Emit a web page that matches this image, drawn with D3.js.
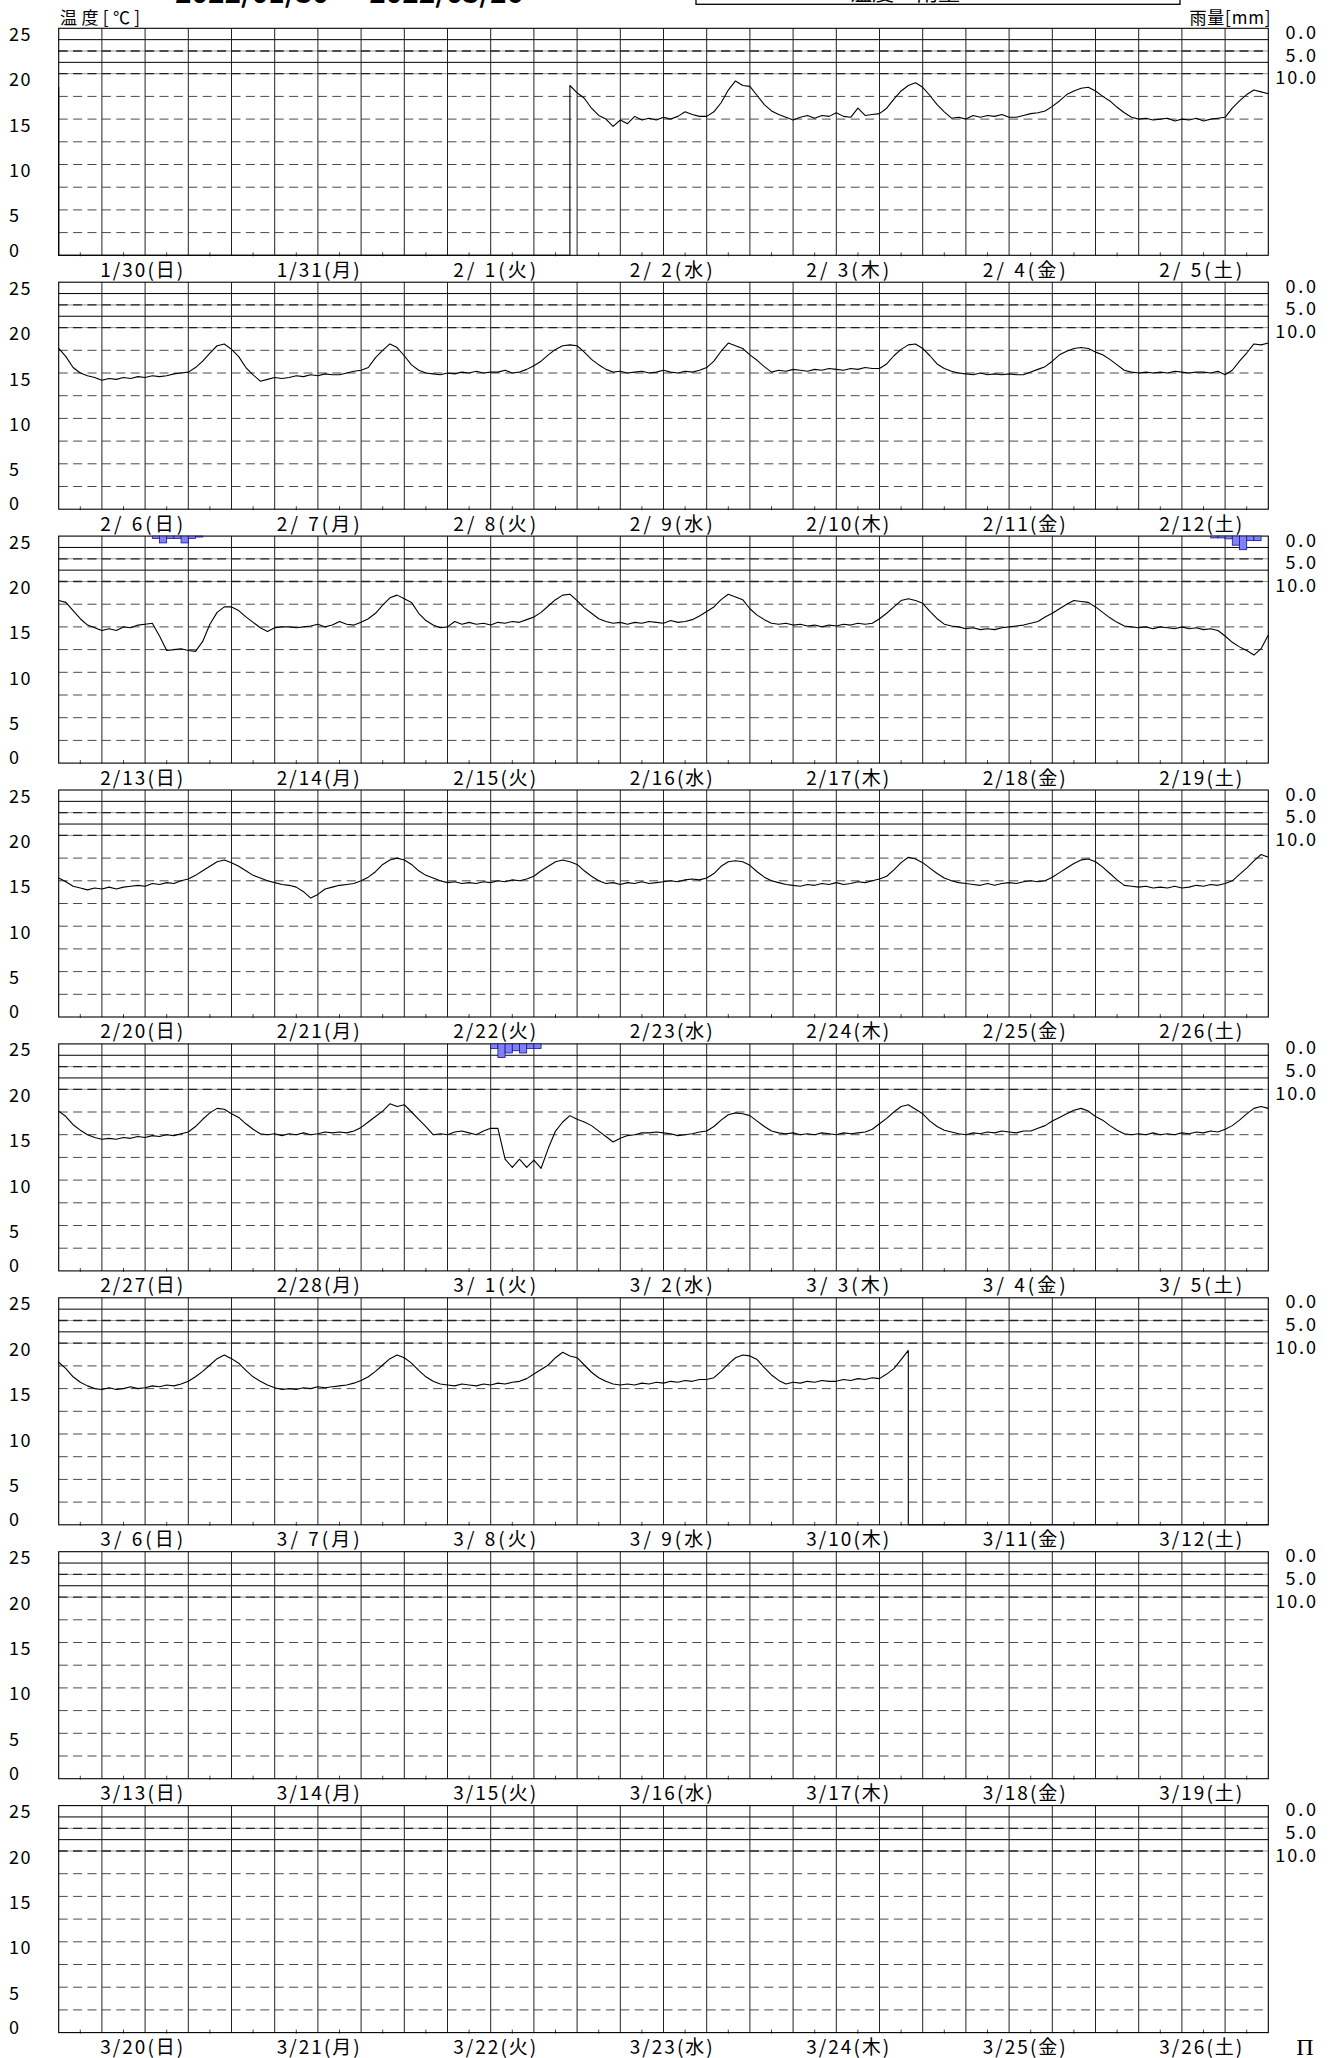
<!DOCTYPE html>
<html><head><meta charset="utf-8">
<script src="https://cdn.jsdelivr.net/npm/d3@7"></script>
<style>
html,body{margin:0;padding:0;background:#fff;}
svg{display:block;}
text{font-family:"Noto Sans CJK JP","Noto Sans",sans-serif;fill:#000;}
</style></head><body>
<svg id="c" width="1336" height="2058"></svg>
<script>
const N = null;
const startDate = new Date(2022, 0, 30);
const weekdays = ["日","月","火","水","木","金","土"];
const titleText = "2022/01/30 ～ 2022/03/26";
const tempTicks = [25, 20, 15, 10, 5, 0];
const rainTicks = [0, 5, 10];
const tempDashGrid = [2.5, 5, 7.5, 10, 12.5, 15, 17.5];
const rainSolidGrid = [2.5, 7.5];
const rainDashGrid = [5, 10];

// hourly temperatures (°C), hour 0..168 of each 7-day panel; null = no data
const temp1 = [18.5,
 N,N,N,N,N,N,N,N,N,N, N,N,N,N,N,N,N,N,N,N, N,N,N,N,N,N,N,N,N,N, N,N,N,N,N,N,N,N,N,N,
 N,N,N,N,N,N,N,N,N,N, N,N,N,N,N,N,N,N,N,N, N,N,N,N,N,N,N,N,N,N,
 18.7,17.9,17.3,16.2,15.4,15.0,14.2,14.9,14.5,15.3,
 14.9,15.1,14.9,15.2,15.0,15.3,15.8,15.5,15.3,15.3,
 15.8,16.8,18.2,19.2,18.7,18.6,17.6,16.6,15.9,15.5,
 15.2,14.9,15.2,15.4,15.1,15.4,15.3,15.7,15.3,15.2,
 16.2,15.4,15.5,15.6,16.2,17.2,18.1,18.7,19.0,18.5,
 17.6,16.6,15.8,15.1,15.2,15.0,15.4,15.2,15.4,15.3,
 15.5,15.2,15.2,15.4,15.6,15.7,15.9,16.4,17.0,17.7,
 18.1,18.4,18.5,18.1,17.5,17.0,16.3,15.7,15.2,15.0,
 15.1,14.9,15.0,15.1,14.8,15.0,14.9,15.1,14.8,15.0,
 15.1,15.2,16.2,17.0,17.7,18.2,18.0,17.8];
const temp2 = [
 17.7,16.8,15.6,15.0,14.7,14.5,14.2,14.4,14.3,14.5,
 14.4,14.6,14.5,14.7,14.6,14.7,14.9,15.0,15.1,15.6,
 16.3,17.2,18.0,18.2,17.6,16.8,15.6,14.8,14.1,14.3,
 14.5,14.4,14.5,14.7,14.6,14.8,14.7,14.9,14.8,14.8,
 15.0,15.2,15.3,15.6,16.7,17.5,18.2,17.8,16.9,15.9,
 15.3,15.0,14.9,14.8,15.0,14.9,15.1,15.0,15.2,15.0,
 15.1,15.1,15.3,15.0,15.1,15.4,15.8,16.3,17.0,17.6,
 18.0,18.1,18.0,17.3,16.5,15.9,15.4,15.1,15.2,15.0,
 15.1,15.2,15.0,15.1,15.3,15.1,15.0,15.2,15.1,15.3,
 15.6,16.3,17.4,18.3,18.0,17.7,17.0,16.4,15.7,15.1,
 15.3,15.2,15.4,15.3,15.2,15.4,15.3,15.5,15.4,15.3,
 15.5,15.4,15.6,15.5,15.5,16.0,16.9,17.6,18.1,18.2,
 17.7,16.9,16.0,15.5,15.2,15.0,14.9,14.8,15.0,14.8,
 14.9,14.8,14.9,14.8,14.8,15.1,15.4,15.7,16.3,17.0,
 17.4,17.7,17.8,17.7,17.3,17.0,16.5,15.9,15.3,15.1,
 15.0,15.1,15.0,15.1,15.0,15.2,15.1,15.0,15.1,15.1,
 15.0,15.2,14.8,15.3,16.3,17.2,18.2,18.1,18.3];
const temp3 = [
 17.9,17.7,16.8,15.9,15.2,14.9,14.6,14.8,14.6,15.0,
 14.9,15.2,15.3,15.4,14.0,12.4,12.5,12.6,12.4,12.3,
 13.4,15.3,16.6,17.2,17.2,16.8,16.1,15.5,14.9,14.5,
 14.9,15.0,15.0,14.9,15.0,15.1,15.3,15.0,15.2,15.6,
 15.3,15.2,15.5,15.9,16.5,17.4,18.2,18.5,18.1,17.7,
 16.5,15.7,15.2,14.9,15.0,15.6,15.3,15.5,15.3,15.4,
 15.2,15.5,15.4,15.6,15.5,15.8,16.1,16.6,17.3,18.0,
 18.5,18.6,17.9,17.1,16.5,15.9,15.6,15.4,15.5,15.3,
 15.5,15.4,15.6,15.5,15.4,15.7,15.5,15.6,15.8,16.2,
 16.7,17.2,18.0,18.6,18.3,18.0,17.0,16.3,15.8,15.4,
 15.3,15.4,15.2,15.3,15.1,15.2,15.0,15.2,15.1,15.3,
 15.2,15.4,15.3,15.4,15.9,16.5,17.2,17.9,18.1,17.9,
 17.6,16.7,15.9,15.3,15.1,15.0,14.8,14.9,14.7,14.8,
 14.7,14.9,15.0,15.1,15.2,15.4,15.6,16.1,16.5,17.0,
 17.5,17.9,17.8,17.7,17.2,16.6,16.0,15.5,15.1,15.0,
 14.9,15.0,14.8,15.0,14.9,14.8,15.0,14.8,14.9,14.7,
 14.8,14.6,14.0,13.3,12.8,12.4,11.9,12.6,14.1];
const temp4 = [
 15.3,14.9,14.4,14.2,14.0,14.2,14.1,14.3,14.1,14.3,
 14.4,14.5,14.4,14.7,14.6,14.8,14.7,15.0,15.2,15.6,
 16.1,16.6,17.1,17.3,17.0,16.6,16.1,15.6,15.3,15.0,
 14.8,14.6,14.5,14.3,13.8,13.1,13.5,14.1,14.3,14.5,
 14.6,14.7,15.0,15.4,16.0,16.8,17.3,17.5,17.3,16.8,
 16.1,15.6,15.3,15.0,14.8,14.9,14.7,14.8,14.7,14.9,
 14.8,15.0,14.9,15.1,15.0,15.2,15.5,16.1,16.6,17.1,
 17.3,17.1,16.8,16.1,15.5,15.0,14.7,14.8,14.6,14.8,
 14.7,14.9,14.7,14.8,14.9,15.0,14.9,15.1,15.2,15.1,
 15.3,15.8,16.6,17.1,17.2,17.1,16.7,16.0,15.4,15.0,
 14.8,14.6,14.5,14.4,14.6,14.5,14.7,14.6,14.8,14.6,
 14.7,14.9,14.8,15.0,15.2,15.5,16.2,17.0,17.6,17.4,
 17.0,16.4,15.8,15.3,15.0,14.8,14.7,14.6,14.5,14.7,
 14.5,14.7,14.8,14.7,14.9,15.0,14.9,15.0,15.4,15.9,
 16.4,16.9,17.3,17.4,17.1,16.5,15.8,15.1,14.5,14.4,
 14.3,14.4,14.2,14.3,14.2,14.4,14.2,14.3,14.5,14.4,
 14.6,14.5,14.7,15.0,15.7,16.4,17.2,17.9,17.6];
const temp5 = [
 17.6,17.0,16.1,15.5,15.0,14.7,14.5,14.6,14.5,14.7,
 14.6,14.8,14.7,14.9,14.8,15.0,14.9,15.1,15.3,15.9,
 16.7,17.4,17.9,17.8,17.3,16.9,16.2,15.6,15.1,15.0,
 15.1,14.9,15.1,15.0,15.2,15.0,15.1,15.3,15.2,15.3,
 15.2,15.4,15.8,16.4,17.0,17.6,18.4,18.1,18.3,17.5,
 16.7,15.9,15.0,15.1,15.0,15.3,15.4,15.2,15.0,15.4,
 15.7,15.7,12.3,11.4,12.3,11.4,12.2,11.3,13.5,15.4,
 16.4,17.1,16.7,16.4,16.0,15.4,14.8,14.2,14.6,14.9,
 15.0,15.2,15.2,15.3,15.2,15.1,14.9,15.0,15.1,15.3,
 15.4,15.9,16.6,17.2,17.4,17.3,17.1,16.5,15.9,15.4,
 15.2,15.1,15.2,15.0,15.1,15.0,15.2,15.1,15.0,15.2,
 15.1,15.2,15.3,15.6,16.2,16.8,17.5,18.1,18.3,17.8,
 17.3,16.5,15.9,15.5,15.3,15.1,15.0,15.2,15.1,15.3,
 15.2,15.4,15.3,15.2,15.4,15.4,15.7,16.0,16.5,16.9,
 17.3,17.7,17.9,17.6,17.0,16.6,16.0,15.5,15.1,15.0,
 15.1,15.0,15.2,15.0,15.1,15.0,15.2,15.1,15.3,15.2,
 15.4,15.3,15.6,16.0,16.6,17.3,17.9,18.1,17.9];
const temp6 = [
 17.9,17.2,16.3,15.7,15.3,15.0,14.9,15.1,14.9,15.0,
 15.2,15.0,15.1,15.3,15.2,15.4,15.3,15.5,15.8,16.3,
 16.9,17.6,18.3,18.7,18.3,17.8,17.0,16.3,15.8,15.4,
 15.1,14.9,15.0,14.9,15.1,15.0,15.2,15.1,15.2,15.3,
 15.4,15.6,15.9,16.3,16.9,17.6,18.3,18.7,18.4,17.8,
 17.0,16.3,15.8,15.5,15.4,15.3,15.5,15.4,15.3,15.5,
 15.4,15.6,15.5,15.7,15.8,16.1,16.6,17.1,17.6,18.4,
 19.0,18.6,18.4,17.6,16.8,16.2,15.8,15.5,15.4,15.5,
 15.4,15.6,15.5,15.7,15.6,15.8,15.7,15.9,15.8,16.0,
 16.0,16.2,16.9,17.7,18.4,18.7,18.6,18.2,17.3,16.5,
 15.9,15.5,15.7,15.6,15.8,15.7,15.9,15.8,15.8,16.0,
 15.9,16.1,16.0,16.2,16.1,16.6,17.2,18.2,19.2,
 N,N,N,N,N,N,N,N,N,N, N,N,N,N,N,N,N,N,N,N, N,N,N,N,N,N,N,N,N,N,
 N,N,N,N,N,N,N,N,N,N, N,N,N,N,N,N,N,N,N,N];
const temp7 = [];
const temp8 = [];

// hourly rainfall (mm): hour index within panel and amount
const rain3Hours = [13,14,15,16,17,18,19,160,161,162,163,164,165,166];
const rain3Mm    = [0.5,1.5,0.5,0.5,1.5,0.5,0.2,0.4,0.4,0.6,2.0,3.0,1.0,1.0];
const rain5Hours = [60,61,62,63,64,65,66];
const rain5Mm    = [1.0,3.0,2.0,1.5,2.0,1.0,1.0];

const panelTemps = [temp1, temp2, temp3, temp4, temp5, temp6, temp7, temp8];
const panelRain = [[], [], d3.zip(rain3Hours, rain3Mm), [], d3.zip(rain5Hours, rain5Mm), [], [], []];

// ---------------- layout ----------------
const left = 58.7, right = 1268.3;
const top0 = 28.3, pitch = 253.9, ph = 227;
const svg = d3.select("#c");
const x = d3.scaleLinear().domain([0, 168]).range([left, right]);

// header
svg.append("text").attr("x", 175).attr("y", 3).attr("font-size", 26).attr("font-weight", "bold")
  .attr("textLength", 348).attr("lengthAdjust", "spacingAndGlyphs").text(titleText);
svg.append("rect").attr("x", 696).attr("y", -40).attr("width", 484).attr("height", 44.3)
  .attr("fill", "none").attr("stroke", "#000").attr("stroke-width", 1.3);
svg.append("text").attr("x", 905).attr("y", 0).attr("font-size", 22).attr("text-anchor", "middle").text("温度・雨量");
svg.append("text").attr("x", 60).attr("y", 24).attr("font-size", 17)
  .attr("textLength", 80).attr("lengthAdjust", "spacing").text("温度[℃]");
svg.append("text").attr("x", 1189.5).attr("y", 24).attr("font-size", 17)
  .attr("textLength", 81).attr("lengthAdjust", "spacing").text("雨量[mm]");
svg.append("text").attr("x", 1305).attr("y", 2054.5).attr("font-size", 24).attr("text-anchor", "middle")
  .style("font-family", "'Liberation Serif','DejaVu Serif',serif").text("Π");

const fmtDay = d => {
  const m = d.getMonth() + 1, dd = d.getDate();
  return m + "/" + (dd < 10 ? " " + dd : dd) + "(" + weekdays[d.getDay()] + ")";
};

panelTemps.forEach((temps, k) => {
  const top = top0 + k * pitch, bot = top + ph;
  const y = d3.scaleLinear().domain([0, 25]).range([bot, top]);
  const yr = d3.scaleLinear().domain([0, 10]).range([top, y(20)]);
  const g = svg.append("g");

  // temperature dashed grid
  g.selectAll(".td").data(tempDashGrid).join("line")
    .attr("x1", left).attr("x2", right).attr("y1", d => y(d)).attr("y2", d => y(d))
    .attr("stroke", "#4a4a4a").attr("stroke-width", 1).attr("stroke-dasharray", "9,5.4");
  // rain grid
  g.selectAll(".rs").data(rainSolidGrid).join("line")
    .attr("x1", left).attr("x2", right).attr("y1", d => yr(d)).attr("y2", d => yr(d))
    .attr("stroke", "#000").attr("stroke-width", 1);
  g.selectAll(".rd").data(rainDashGrid).join("line")
    .attr("x1", left).attr("x2", right).attr("y1", d => yr(d)).attr("y2", d => yr(d))
    .attr("stroke", "#999").attr("stroke-width", 1);
  g.selectAll(".rd2").data(rainDashGrid).join("line")
    .attr("x1", left).attr("x2", right).attr("y1", d => yr(d)).attr("y2", d => yr(d))
    .attr("stroke", "#222").attr("stroke-width", 1.3).attr("stroke-dasharray", "9,5.4");
  // vertical grid every 6 hours
  g.selectAll(".vg").data(d3.range(6, 168, 6)).join("line")
    .attr("x1", d => x(d)).attr("x2", d => x(d)).attr("y1", top).attr("y2", bot)
    .attr("stroke", "#222").attr("stroke-width", 1);
  // small ticks at 3-hour midpoints
  g.selectAll(".mt").data(d3.range(3, 168, 6)).join("line")
    .attr("x1", d => x(d)).attr("x2", d => x(d)).attr("y1", bot - 3).attr("y2", bot + 1)
    .attr("stroke", "#444").attr("stroke-width", 1);
  // frame
  g.append("rect").attr("x", left).attr("y", top).attr("width", right - left).attr("height", ph)
    .attr("fill", "none").attr("stroke", "#000").attr("stroke-width", 1.1);

  // rain bars
  g.selectAll(".rain").data(panelRain[k]).join("rect")
    .attr("x", d => x(d[0])).attr("width", d => x(d[0] + 1) - x(d[0]))
    .attr("y", top).attr("height", d => yr(d[1]) - yr(0))
    .attr("fill", "#8080ff").attr("stroke", "#1a1a66").attr("stroke-width", 0.8);

  // temperature line (missing data plotted at 0)
  if (temps.length) {
    const pts = [];
    temps.forEach((v, i) => {
      if (v == null) {
        if (i > 0 && temps[i - 1] != null) pts.push([i - 1, 0]);
        pts.push([i, 0]);
      } else {
        if (i > 0 && temps[i - 1] == null) pts.push([i, 0]);
        pts.push([i, v]);
      }
    });
    g.append("path").datum(pts)
      .attr("d", d3.line().x(d => x(d[0])).y(d => y(d[1])))
      .attr("fill", "none").attr("stroke", "#000").attr("stroke-width", 1.1)
      .attr("stroke-linejoin", "round");
  }

  // left labels
  g.selectAll(".tl").data(tempTicks).join("text")
    .attr("x", 9).attr("y", d => d === 0 ? y(d) + 1.2 : y(d) + 12.5)
    .attr("font-size", 18).attr("textLength", d => String(d).length * 10.8).attr("lengthAdjust", "spacing")
    .text(d => d);
  // right labels
  g.selectAll(".rl").data(rainTicks).join("text")
    .attr("x", d => 1316 - d3.format(".1f")(d).length * 10.2).attr("y", d => yr(d) + 10.5)
    .attr("font-size", 18).attr("textLength", d => d3.format(".1f")(d).length * 10.2).attr("lengthAdjust", "spacing")
    .text(d => d3.format(".1f")(d));
  // day labels
  g.selectAll(".dl").data(d3.range(7)).join("text")
    .attr("x", i => 141.8 + i * 176.5 - 41.5).attr("y", bot + 21.4)
    .attr("font-size", 19).attr("textLength", 83).attr("lengthAdjust", "spacing")
    .style("white-space", "pre")
    .text(i => fmtDay(d3.timeDay.offset(startDate, k * 7 + i)));
});
</script>
</body></html>
